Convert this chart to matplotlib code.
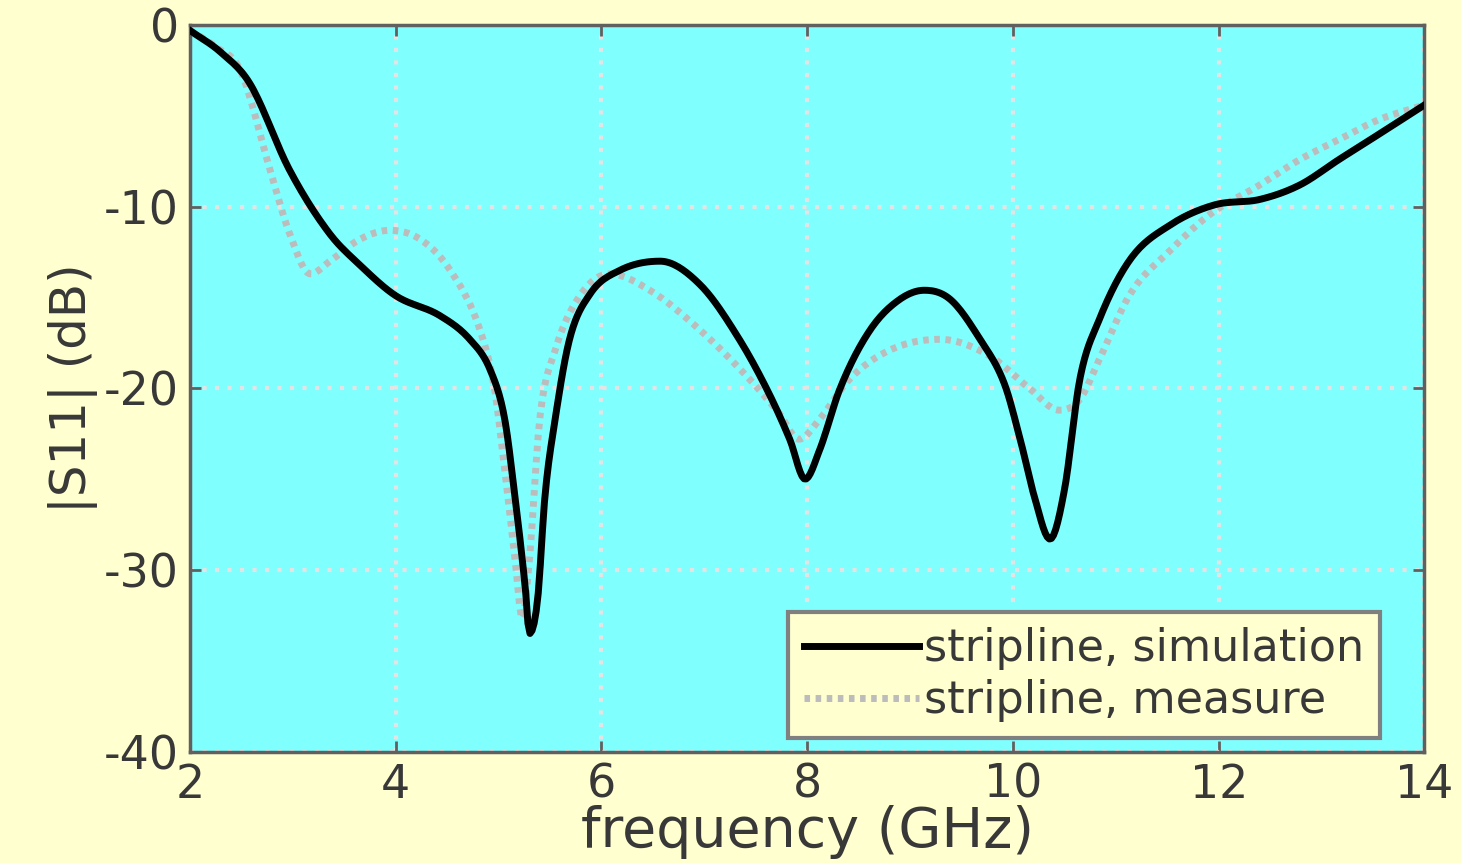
import numpy as np
import matplotlib
matplotlib.use("Agg")
import matplotlib.pyplot as plt

# stripline, simulation
sim_f = [2.0, 2.3, 2.58, 2.97, 3.36, 3.65, 4.0, 4.43, 4.72, 4.92, 5.06, 5.16, 5.26,
         5.30, 5.38, 5.45, 5.55, 5.69, 5.89, 6.18, 6.57, 6.96, 7.34, 7.63, 7.83,
         7.98, 8.12, 8.32, 8.61, 8.9, 9.14, 9.39, 9.68, 9.92, 10.07, 10.21, 10.36,
         10.5, 10.65, 10.84, 11.14, 11.53, 11.96, 12.4, 12.79, 13.17, 13.56, 14.0]
sim_db = [-0.3, -1.5, -3.2, -8.0, -11.5, -13.2, -14.9, -16.0, -17.3, -19.0, -21.7,
          -26.0, -31.0, -33.5, -31.6, -26.0, -21.7, -17.3, -14.8, -13.5, -13.0,
          -14.3, -17.3, -20.3, -22.8, -25.0, -23.4, -20.0, -16.8, -15.1, -14.6,
          -15.1, -17.3, -19.8, -22.8, -26.0, -28.3, -25.6, -19.5, -16.2, -12.9,
          -11.0, -9.9, -9.6, -8.8, -7.4, -6.0, -4.4]

# stripline, measure
meas_f = [2.0, 2.25, 2.49, 2.78, 2.97, 3.17, 3.36, 3.65, 3.94, 4.24, 4.53, 4.82,
          4.96, 5.06, 5.16, 5.23, 5.30, 5.40, 5.55, 5.79, 6.08, 6.47, 6.96, 7.44,
          7.73, 7.92, 8.12, 8.41, 8.8, 9.29, 9.77, 10.16, 10.45, 10.65, 10.84,
          11.14, 11.53, 11.92, 12.4, 12.79, 13.17, 13.56, 14.0]
meas_db = [-0.3, -1.2, -2.5, -8.0, -11.5, -13.7, -13.0, -11.8, -11.3, -11.8, -13.5,
           -16.8, -20.0, -24.5, -29.4, -32.7, -29.4, -21.7, -17.9, -14.9, -13.7,
           -14.6, -16.8, -19.5, -21.4, -22.8, -21.7, -19.5, -17.9, -17.3, -18.2,
           -20.0, -21.2, -20.6, -18.4, -14.8, -12.4, -10.4, -8.8, -7.4, -6.3,
           -5.2, -4.4]

xticks = [2, 4, 6, 8, 10, 12, 14]
yticks = [-40, -30, -20, -10, 0]


def smooth(x, y, n=600):
    # cubic hermite through the read points, flat at the turning points
    x = np.asarray(x)
    y = np.asarray(y)
    xs = np.linspace(x[0], x[-1], n)
    h = np.diff(x)
    d = np.diff(y) / h
    m = np.zeros_like(y)
    m[1:-1] = (d[:-1] + d[1:]) / 2
    m[0], m[-1] = d[0], d[-1]
    for k in range(1, len(y) - 1):
        if d[k - 1] * d[k] <= 0:
            m[k] = 0.0
    idx = np.clip(np.searchsorted(x, xs) - 1, 0, len(h) - 1)
    t = (xs - x[idx]) / h[idx]
    h00 = 2 * t**3 - 3 * t**2 + 1
    h10 = t**3 - 2 * t**2 + t
    h01 = -2 * t**3 + 3 * t**2
    h11 = t**3 - t**2
    ys = h00 * y[idx] + h10 * h[idx] * m[idx] + h01 * y[idx + 1] + h11 * h[idx] * m[idx + 1]
    return xs, ys


plt.rc("font", family="DejaVu Sans")
plt.rc("axes", unicode_minus=False)

txtcol = "#383838"

fig = plt.figure(figsize=(14.61, 8.63), dpi=100)
fig.patch.set_facecolor("#FFFFD0")
ax = fig.add_axes([0.130, 0.129, 0.845, 0.842])
ax.set_facecolor("#80FFFF")

xs, ys = smooth(meas_f, meas_db)
ax.plot(xs, ys, color="#bcbcbc", lw=5, ls=(0, (0.8, 0.8)), label="stripline, measure", zorder=3)
xs, ys = smooth(sim_f, sim_db)
ax.plot(xs, ys, color="black", lw=5, label="stripline, simulation", zorder=4)

ax.set_xlim(2, 14)
ax.set_ylim(-40, 0)
ax.set_xticks(xticks)
ax.set_yticks(yticks)
ax.grid(True, color="#e4e4e4", ls=(0, (1, 2)), lw=3)

for s in ax.spines.values():
    s.set_color("#606060")
    s.set_linewidth(2.5)
ax.tick_params(direction="in", length=8, width=2, color="#606060",
               labelsize=33, labelcolor=txtcol, pad=8)
ax.tick_params(top=True, right=True)

ax.set_xlabel("frequency (GHz)", fontsize=40, color=txtcol, labelpad=-2)
ax.set_ylabel("|S11| (dB)", fontsize=36, color=txtcol, labelpad=4)

h, l = ax.get_legend_handles_labels()
leg = ax.legend(h[::-1], l[::-1], loc="lower right", bbox_to_anchor=(0.9636, 0.019),
                fontsize=32, frameon=True, fancybox=False, framealpha=1,
                facecolor="#FFFFD0", edgecolor="#808080", handlelength=2.6,
                handletextpad=0.1, borderaxespad=0, borderpad=0.35,
                labelspacing=0.2)
leg.get_frame().set_linewidth(3)
for t in leg.get_texts():
    t.set_color(txtcol)

fig.savefig("out.png", dpi=100, facecolor=fig.get_facecolor())
